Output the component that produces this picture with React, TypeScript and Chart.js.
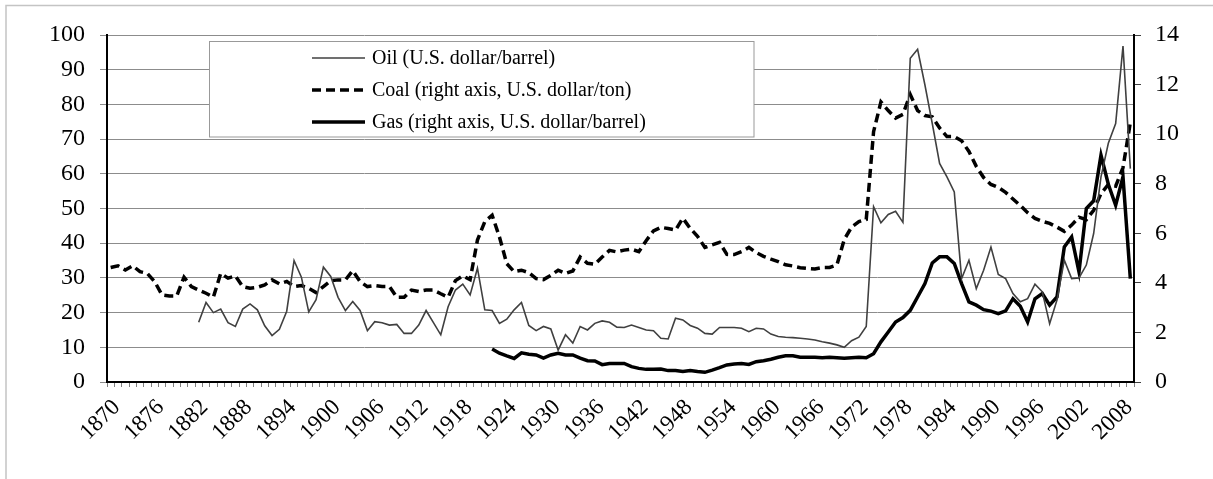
import React, { useEffect, useRef } from "react";
import { Chart, registerables } from "chart.js";

Chart.register(...registerables);

const FIRST_YEAR = 1870;
const LAST_YEAR = 2009;
const years: string[] = Array.from({ length: LAST_YEAR - FIRST_YEAR + 1 }, (_, i) => String(FIRST_YEAR + i));

const seriesLabels = [
  "Oil (U.S. dollar/barrel)",
  "Coal (right axis, U.S. dollar/ton)",
  "Gas (right axis, U.S. dollar/barrel)",
];

// Oil, left axis (starts 1882)
const oilValues: (number | null)[] = [
  null, null, null, null, null, null, null, null, null, null,
  null, null, 17.2, 22.9, 20.0, 21.0, 17.1, 16.0, 21.0, 22.5,
  20.8, 16.2, 13.4, 15.2, 20.4, 35.0, 30.2, 20.2, 23.7, 33.1,
  30.4, 24.4, 20.6, 23.2, 20.6, 14.8, 17.4, 17.1, 16.4, 16.6,
  14.0, 14.0, 16.4, 20.6, 17.1, 13.6, 21.7, 26.5, 28.2, 25.1,
  32.8, 20.8, 20.6, 16.9, 18.1, 20.8, 22.9, 16.3, 14.8, 16.0,
  15.3, 9.2, 13.6, 11.2, 16.0, 15.0, 16.9, 17.6, 17.2, 15.8,
  15.7, 16.4, 15.7, 15.0, 14.8, 12.6, 12.4, 18.4, 17.9, 16.3,
  15.5, 14.0, 13.8, 15.7, 15.7, 15.7, 15.5, 14.5, 15.5, 15.3,
  13.8, 13.1, 12.9, 12.8, 12.6, 12.4, 12.1, 11.6, 11.2, 10.7,
  10.0, 11.9, 12.9, 16.0, 50.5, 45.9, 48.3, 49.2, 46.0, 93.3,
  95.9, 85.6, 74.5, 63.0, 59.1, 54.8, 29.8, 35.1, 26.9, 32.2,
  38.9, 31.0, 29.8, 25.5, 23.1, 24.0, 28.2, 26.0, 16.8, 23.6,
  35.1, 29.8, 30.0, 33.7, 42.8, 59.1, 68.8, 74.5, 96.8, 61.5,
];

// Coal, right axis
const coalValues: (number | null)[] = [
  4.62, 4.69, 4.52, 4.69, 4.45, 4.38, 4.05, 3.51, 3.47, 3.47,
  4.23, 3.85, 3.71, 3.58, 3.42, 4.38, 4.19, 4.28, 3.85, 3.78,
  3.82, 3.92, 4.12, 3.96, 4.06, 3.85, 3.89, 3.78, 3.61, 3.85,
  4.09, 4.12, 4.12, 4.49, 4.05, 3.85, 3.89, 3.85, 3.85, 3.42,
  3.42, 3.71, 3.65, 3.71, 3.71, 3.56, 3.42, 4.09, 4.28, 4.13,
  5.73, 6.47, 6.73, 5.85, 4.77, 4.45, 4.51, 4.41, 4.17, 4.13,
  4.30, 4.51, 4.38, 4.48, 5.04, 4.79, 4.75, 5.04, 5.31, 5.25,
  5.32, 5.36, 5.26, 5.70, 6.10, 6.24, 6.19, 6.13, 6.61, 6.20,
  5.88, 5.43, 5.53, 5.63, 5.15, 5.14, 5.26, 5.43, 5.22, 5.07,
  4.96, 4.86, 4.73, 4.68, 4.61, 4.58, 4.56, 4.62, 4.62, 4.72,
  5.75, 6.25, 6.47, 6.56, 10.1, 11.3, 10.95, 10.65, 10.8, 11.6,
  10.95, 10.75, 10.7, 10.25, 9.9, 9.9, 9.73, 9.3, 8.7, 8.25,
  7.97, 7.85, 7.65, 7.38, 7.12, 6.83, 6.6, 6.48, 6.4, 6.25,
  6.08, 6.33, 6.65, 6.55, 6.93, 7.6, 7.97, 7.9, 8.65, 10.47,
];

// Gas, right axis (starts 1922)
const gasValues: (number | null)[] = [
  null, null, null, null, null, null, null, null, null, null,
  null, null, null, null, null, null, null, null, null, null,
  null, null, null, null, null, null, null, null, null, null,
  null, null, null, null, null, null, null, null, null, null,
  null, null, null, null, null, null, null, null, null, null,
  null, null, 1.33, 1.16, 1.05, 0.95, 1.18, 1.12, 1.09, 0.96,
  1.09, 1.16, 1.09, 1.09, 0.96, 0.86, 0.85, 0.70, 0.75, 0.75,
  0.75, 0.62, 0.55, 0.51, 0.51, 0.52, 0.46, 0.46, 0.42, 0.46,
  0.42, 0.39, 0.48, 0.58, 0.69, 0.73, 0.75, 0.71, 0.82, 0.86,
  0.92, 1.00, 1.06, 1.06, 1.00, 1.00, 1.00, 0.98, 1.00, 0.98,
  0.96, 0.98, 1.00, 0.98, 1.14, 1.62, 2.02, 2.42, 2.60, 2.89,
  3.43, 3.97, 4.80, 5.05, 5.05, 4.78, 3.97, 3.23, 3.10, 2.92,
  2.86, 2.76, 2.87, 3.36, 3.06, 2.42, 3.36, 3.57, 3.10, 3.43,
  5.45, 5.85, 4.44, 7.00, 7.31, 9.15, 7.98, 7.13, 8.28, 4.17,
];

const FONT = "'Liberation Serif', 'Times New Roman', serif";

const frameBorder = {
  id: "frameBorder",
  beforeDraw(chart: any) {
    const ctx = chart.ctx;
    ctx.save();
    ctx.strokeStyle = "#c4c4c4";
    ctx.lineWidth = 1.5;
    ctx.beginPath();
    ctx.moveTo(6, chart.height + 2);
    ctx.lineTo(6, 5.5);
    ctx.lineTo(chart.width + 2, 5.5);
    ctx.stroke();
    ctx.restore();
  },
};

const boxLegend = {
  id: "boxLegend",
  afterDatasetsDraw(chart: any) {
    const ctx = chart.ctx;
    const x0 = 209.5, y0 = 41.5, w = 544.5, h = 95.5;
    ctx.save();
    ctx.fillStyle = "#ffffff";
    ctx.fillRect(x0, y0, w, h);
    ctx.strokeStyle = "#999999";
    ctx.lineWidth = 1;
    ctx.strokeRect(x0, y0, w, h);
    const rows = [58, 90, 122];
    chart.data.datasets.forEach((ds: any, i: number) => {
      const y = rows[i];
      ctx.beginPath();
      ctx.strokeStyle = ds.borderColor;
      ctx.lineWidth = ds.borderWidth;
      ctx.setLineDash(ds.borderDash || []);
      ctx.moveTo(312, y);
      ctx.lineTo(365, y);
      ctx.stroke();
      ctx.setLineDash([]);
      ctx.fillStyle = "#000";
      ctx.font = `20px ${FONT}`;
      ctx.textBaseline = "middle";
      ctx.textAlign = "left";
      ctx.fillText(ds.label, 372, y + 1);
    });
    ctx.restore();
  },
};

export default function App() {
  const canvasRef = useRef<HTMLCanvasElement | null>(null);

  useEffect(() => {
    if (!canvasRef.current) return;
    const chart = new Chart(canvasRef.current, {
      type: "line",
      data: {
        labels: years,
        datasets: [
          {
            label: seriesLabels[0],
            data: oilValues,
            yAxisID: "y",
            borderColor: "#404040",
            borderWidth: 1.6,
            pointRadius: 0,
            tension: 0,
            fill: false,
          },
          {
            label: seriesLabels[1],
            data: coalValues,
            yAxisID: "y1",
            borderColor: "#000000",
            borderWidth: 3.5,
            borderDash: [9, 5],
            pointRadius: 0,
            tension: 0,
            fill: false,
          },
          {
            label: seriesLabels[2],
            data: gasValues,
            yAxisID: "y1",
            borderColor: "#000000",
            borderWidth: 3.5,
            pointRadius: 0,
            tension: 0,
            fill: false,
          },
        ],
      },
      options: {
        responsive: false,
        animation: false,
        devicePixelRatio: 1,
        layout: { padding: { top: 35, left: 0, right: 0, bottom: 0 } },
        plugins: {
          legend: { display: false },
          tooltip: { enabled: false },
        },
        scales: {
          x: {
            type: "category",
            offset: true,
            grid: {
              offset: true,
              drawOnChartArea: false,
              drawTicks: true,
              tickLength: 5,
              tickColor: "#808080",
            },
            border: { color: "#000", width: 2 },
            ticks: {
              autoSkip: false,
              maxRotation: 45,
              minRotation: 45,
              padding: 7,
              labelOffset: 6,
              color: "#000",
              font: { family: FONT, size: 23 },
              callback: (_v: any, idx: number) => (idx % 6 === 0 ? years[idx] : ""),
            },
            afterFit: (s: any) => {
              s.height = 97;
            },
          },
          y: {
            position: "left",
            min: 0,
            max: 100,
            grid: {
              color: "#8c8c8c",
              lineWidth: 1,
              tickLength: 7,
              tickColor: "#8c8c8c",
            },
            border: { color: "#000", width: 2 },
            ticks: {
              stepSize: 10,
              padding: 15,
              color: "#000",
              font: { family: FONT, size: 24 },
            },
            afterFit: (s: any) => {
              s.width = 107;
            },
          },
          y1: {
            position: "right",
            min: 0,
            max: 14,
            grid: {
              drawOnChartArea: false,
              tickLength: 7,
              tickColor: "#404040",
            },
            border: { color: "#000", width: 2 },
            ticks: {
              stepSize: 2,
              padding: 14,
              color: "#000",
              font: { family: FONT, size: 24 },
            },
            afterFit: (s: any) => {
              s.width = 79;
            },
          },
        },
      },
      plugins: [frameBorder, boxLegend],
    } as any);
    return () => chart.destroy();
  }, []);

  return (
    <div style={{ position: "fixed", left: 0, top: 0, width: 1213, height: 479, background: "#fff" }}>
      <canvas ref={canvasRef} width={1213} height={479} />
    </div>
  );
}
